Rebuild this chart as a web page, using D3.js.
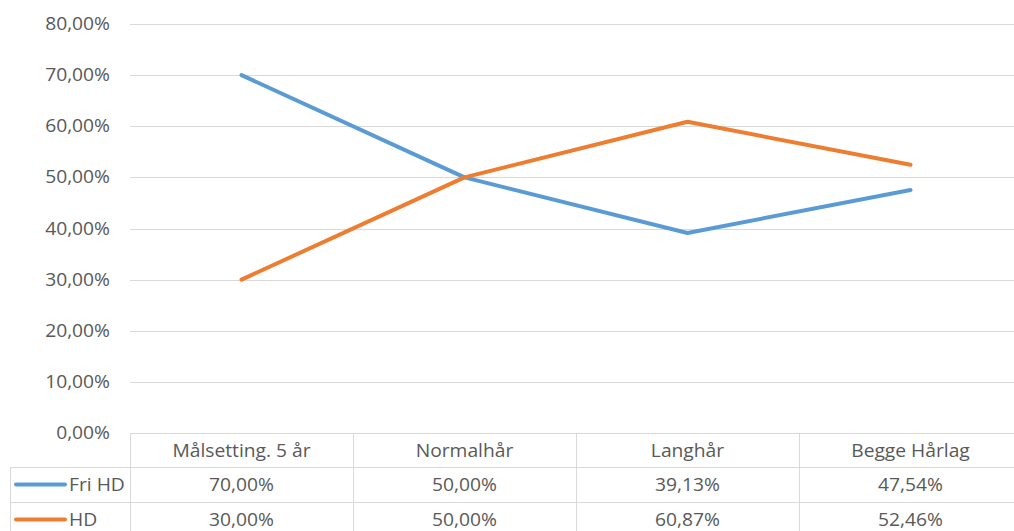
<!DOCTYPE html>
<html>
<head>
<meta charset="utf-8">
<script src="https://cdn.jsdelivr.net/npm/d3@7"></script>
<style>
  html, body { margin: 0; padding: 0; background: #fff; }
  svg { display: block; }
  text { font-family: "Open Sans", sans-serif; fill: #595959; }
</style>
</head>
<body>
<svg id="chart" width="1014" height="531"></svg>
<script>
const categories = ["Målsetting. 5 år", "Normalhår", "Langhår", "Begge Hårlag"];
const seriesNames = ["Fri HD", "HD"];
const friHD = [0.70, 0.50, 0.3913, 0.4754];
const hd = [0.30, 0.50, 0.6087, 0.5246];
const yTicks = [0, 0.1, 0.2, 0.3, 0.4, 0.5, 0.6, 0.7, 0.8];
const colors = ["#5B9BD5", "#ED7D31"];

const series = [
  { name: seriesNames[0], values: friHD, color: colors[0] },
  { name: seriesNames[1], values: hd, color: colors[1] }
];

const locale = d3.formatLocale({ decimal: ",", thousands: " ", grouping: [3], currency: ["", " kr"] });
const pct = locale.format(".2%");

const svg = d3.select("#chart");
const W = 1014;
const plotLeft = 130, plotRight = 1022, plotTop = 24, plotBottom = 433;
const tableLeft = 10;
const headerBottom = 467, rowH = 35;
const fontSize = 17.5, sx = 1.1;
const gridColor = "#D9D9D9";

const x = d3.scaleBand().domain(categories).range([plotLeft, plotRight]).padding(0);
const y = d3.scaleLinear().domain([0, 0.8]).range([plotBottom, plotTop]);
const cx = c => x(c) + x.bandwidth() / 2;

function label(g, tx, ty, str, anchor) {
  g.append("text")
    .attr("transform", `translate(${tx},${ty}) scale(${sx},1)`)
    .attr("text-anchor", anchor)
    .attr("font-size", fontSize)
    .text(str);
}

// gridlines
const grid = svg.append("g");
grid.selectAll("line").data(yTicks).join("line")
  .attr("x1", plotLeft).attr("x2", plotRight)
  .attr("y1", d => Math.round(y(d)) + 0.5).attr("y2", d => Math.round(y(d)) + 0.5)
  .attr("stroke", gridColor).attr("stroke-width", 1);

// y labels
const yl = svg.append("g");
yTicks.forEach(t => label(yl, 110, y(t) + 6, pct(t), "end"));

// table lines
const tbl = svg.append("g").attr("stroke", gridColor).attr("stroke-width", 1).attr("fill", "none");
const rowLines = [headerBottom, headerBottom + rowH, headerBottom + 2 * rowH];
rowLines.forEach(ry => {
  tbl.append("line").attr("x1", tableLeft).attr("x2", plotRight).attr("y1", ry + 0.5).attr("y2", ry + 0.5);
});
tbl.append("line").attr("x1", tableLeft + 0.5).attr("x2", tableLeft + 0.5).attr("y1", headerBottom).attr("y2", 540);
const colEdges = categories.map(c => x(c)).concat([plotRight]);
colEdges.forEach(ex => {
  tbl.append("line").attr("x1", Math.round(ex) + 0.5).attr("x2", Math.round(ex) + 0.5).attr("y1", plotBottom).attr("y2", 540);
});

// header labels
const hdr = svg.append("g");
categories.forEach(c => label(hdr, cx(c), 457, c, "middle"));

// rows
const rows = svg.append("g");
series.forEach((s, i) => {
  const baseY = headerBottom + rowH * i;
  const midY = baseY + rowH / 2;
  rows.append("line")
    .attr("x1", 16).attr("x2", 65)
    .attr("y1", midY).attr("y2", midY)
    .attr("stroke", s.color).attr("stroke-width", 4).attr("stroke-linecap", "round");
  label(rows, 69, midY + 6.5, s.name, "start");
  s.values.forEach((v, j) => label(rows, cx(categories[j]), midY + 6.5, pct(v), "middle"));
});

// lines
const line = d3.line().x((d, i) => cx(categories[i])).y(d => y(d));
svg.append("g").selectAll("path").data(series).join("path")
  .attr("d", d => line(d.values))
  .attr("fill", "none")
  .attr("stroke", d => d.color)
  .attr("stroke-width", 4)
  .attr("stroke-linecap", "round")
  .attr("stroke-linejoin", "round");
</script>
</body>
</html>
